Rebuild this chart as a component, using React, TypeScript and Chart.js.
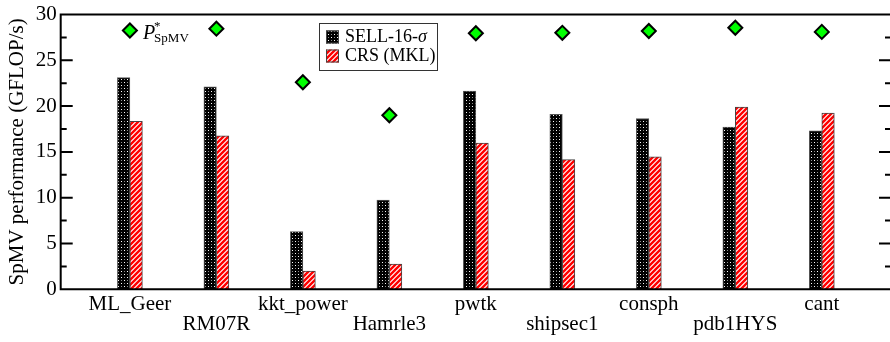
import React, { useEffect, useRef } from "react";
import { Chart, registerables } from "chart.js";

Chart.register(...registerables);

const categories = ["ML_Geer", "RM07R", "kkt_power", "Hamrle3", "pwtk", "shipsec1", "consph", "pdb1HYS", "cant"];
const sellValues = [23.1, 22.1, 6.3, 9.75, 21.65, 19.1, 18.65, 17.7, 17.3];
const crsValues = [18.35, 16.75, 2.0, 2.75, 15.95, 14.15, 14.45, 19.9, 19.25];
const peakValues = [28.25, 28.45, 22.6, 19.0, 27.95, 28.0, 28.2, 28.55, 28.1];
const seriesNames = ["SELL-16-", "CRS (MKL)"];
const yMin = 0;
const yMax = 30;
const yMajorStep = 5;
const yMinorStep = 2.5;

const SERIF = '"Liberation Serif", "Times New Roman", serif';

function dotPattern(ctx: CanvasRenderingContext2D): CanvasPattern {
  const t = document.createElement("canvas");
  t.width = 6;
  t.height = 6;
  const c = t.getContext("2d")!;
  c.fillStyle = "#000";
  c.fillRect(0, 0, 6, 6);
  c.fillStyle = "#fff";
  c.fillRect(1, 1, 1, 1);
  c.fillRect(4, 4, 1, 1);
  c.fillStyle = "#8a8a8a";
  c.fillRect(4, 1, 1, 1);
  c.fillRect(1, 4, 1, 1);
  return ctx.createPattern(t, "repeat")!;
}

function stripePattern(ctx: CanvasRenderingContext2D): CanvasPattern {
  const n = 5;
  const t = document.createElement("canvas");
  t.width = n;
  t.height = n;
  const c = t.getContext("2d")!;
  c.fillStyle = "#fff";
  c.fillRect(0, 0, n, n);
  c.strokeStyle = "#ff0000";
  c.lineWidth = 2.4;
  c.beginPath();
  c.moveTo(-1, n + 1);
  c.lineTo(n + 1, -1);
  c.moveTo(-1, 1);
  c.lineTo(1, -1);
  c.moveTo(n - 1, n + 1);
  c.lineTo(n + 1, n - 1);
  c.stroke();
  return ctx.createPattern(t, "repeat")!;
}

export default function App() {
  const canvasRef = useRef<HTMLCanvasElement | null>(null);

  useEffect(() => {
    const canvas = canvasRef.current;
    if (!canvas) return;
    const ctx0 = canvas.getContext("2d")!;
    const dots = dotPattern(ctx0);
    const stripes = stripePattern(ctx0);

    const framePlugin = {
      id: "frame",
      afterDatasetsDraw(chart: any) {
        const { ctx, chartArea: a, scales } = chart;
        const y = scales.y;
        ctx.save();
        ctx.strokeStyle = "#000";
        ctx.lineWidth = 2;
        ctx.beginPath();
        ctx.moveTo(a.left, a.top);
        ctx.lineTo(a.right, a.top);
        ctx.lineTo(a.right, a.bottom);
        ctx.lineTo(a.left, a.bottom);
        ctx.closePath();
        for (let v = yMin; v <= yMax; v += yMinorStep) {
          const py = y.getPixelForValue(v);
          const len = v % yMajorStep === 0 ? 12 : 6;
          ctx.moveTo(a.left, py);
          ctx.lineTo(a.left + len, py);
          ctx.moveTo(a.right, py);
          ctx.lineTo(a.right - len, py);
        }
        ctx.stroke();
        ctx.restore();
      },
      afterDraw(chart: any) {
        const { ctx } = chart;
        ctx.save();
        // peak performance annotation next to the first diamond
        const pt = chart.getDatasetMeta(2).data[0];
        const px = pt.x + 13;
        const py = pt.y;
        ctx.fillStyle = "#000";
        ctx.textBaseline = "alphabetic";
        ctx.textAlign = "left";
        ctx.font = `italic 20px ${SERIF}`;
        ctx.fillText("P", px, py + 8);
        const pw = ctx.measureText("P").width;
        ctx.font = `13px ${SERIF}`;
        ctx.fillText("*", px + pw - 1, py - 1);
        ctx.fillText("SpMV", px + pw - 1, py + 11);

        // legend box
        const bx = 319.5, by = 23.5, bw = 118, bh = 47;
        ctx.fillStyle = "#fff";
        ctx.fillRect(bx, by, bw, bh);
        ctx.strokeStyle = "#333";
        ctx.lineWidth = 1;
        ctx.strokeRect(bx, by, bw, bh);
        const swatches = [dots, stripes];
        const rows = [37, 56];
        for (let i = 0; i < 2; i++) {
          ctx.fillStyle = swatches[i];
          ctx.fillRect(326, rows[i] - 6.5, 13, 13);
          ctx.strokeStyle = "#444";
          ctx.strokeRect(326.5, rows[i] - 6, 12, 12);
        }
        ctx.fillStyle = "#000";
        ctx.textBaseline = "middle";
        ctx.font = `18px ${SERIF}`;
        ctx.fillText(seriesNames[0], 345, rows[0]);
        const w0 = ctx.measureText(seriesNames[0]).width;
        ctx.font = `italic 18px ${SERIF}`;
        ctx.fillText("\u03c3", 345 + w0, rows[0]);
        ctx.font = `18px ${SERIF}`;
        ctx.fillText(seriesNames[1], 345, rows[1]);
        ctx.restore();
      },
    };

    const chart = new Chart(canvas, {
      type: "bar",
      data: {
        datasets: [
          {
            label: seriesNames[0] + "\u03c3",
            data: categories.map((_, i) => ({ x: i + 1, y: sellValues[i] })),
            backgroundColor: dots,
            borderColor: "#555",
            borderWidth: 1,
            barThickness: 12.5,
          } as any,
          {
            label: seriesNames[1],
            data: categories.map((_, i) => ({ x: i + 1, y: crsValues[i] })),
            backgroundColor: stripes,
            borderColor: "#444",
            borderWidth: 1,
            barThickness: 12.5,
          } as any,
          {
            type: "line",
            label: "P*SpMV",
            data: categories.map((_, i) => ({ x: i + 1, y: peakValues[i] })),
            showLine: false,
            pointStyle: "rectRot",
            pointRadius: 7,
            pointHoverRadius: 7,
            pointBackgroundColor: "#00ff00",
            pointBorderColor: "#000",
            pointBorderWidth: 2,
          } as any,
        ],
      },
      options: {
        animation: false,
        responsive: true,
        maintainAspectRatio: false,
        layout: { padding: { left: 0, right: 6, top: 11.7, bottom: 0 } },
        plugins: { legend: { display: false }, tooltip: { enabled: false } },
        scales: {
          x: {
            type: "linear",
            min: 0.2,
            max: 9.8,
            offset: false,
            grid: { display: false, drawTicks: false },
            border: { display: false },
            afterBuildTicks: (scale: any) => {
              scale.ticks = categories.map((_, i) => ({ value: i + 1 }));
            },
            afterFit: (scale: any) => {
              scale.height = 52.7;
            },
            ticks: {
              autoSkip: false,
              maxRotation: 0,
              minRotation: 0,
              padding: 5,
              color: "#000",
              font: { family: SERIF, size: 21, lineHeight: 0.95 },
              callback: (v: any) => {
                const i = Math.round(Number(v)) - 1;
                const name = categories[i] ?? "";
                return i % 2 === 0 ? name : ["", name];
              },
            },
          },
          y: {
            min: yMin,
            max: yMax,
            grid: { display: false, drawTicks: false },
            border: { display: false },
            afterFit: (scale: any) => {
              scale.width = 60.7;
            },
            ticks: {
              stepSize: yMajorStep,
              padding: 4,
              color: "#000",
              font: { family: SERIF, size: 21, lineHeight: 1 },
            },
            title: {
              display: true,
              text: "SpMV performance (GFLOP/s)",
              color: "#000",
              padding: { top: 5, bottom: 0 },
              font: { family: SERIF, size: 21 },
            },
          },
        },
      },
      plugins: [framePlugin],
    });

    return () => chart.destroy();
  }, []);

  return (
    <div style={{ position: "absolute", left: 0, top: 0, width: 890, height: 342, overflow: "hidden", background: "#fff" }}>
      <div style={{ position: "relative", width: 900, height: 342 }}>
        <canvas ref={canvasRef} />
      </div>
    </div>
  );
}
